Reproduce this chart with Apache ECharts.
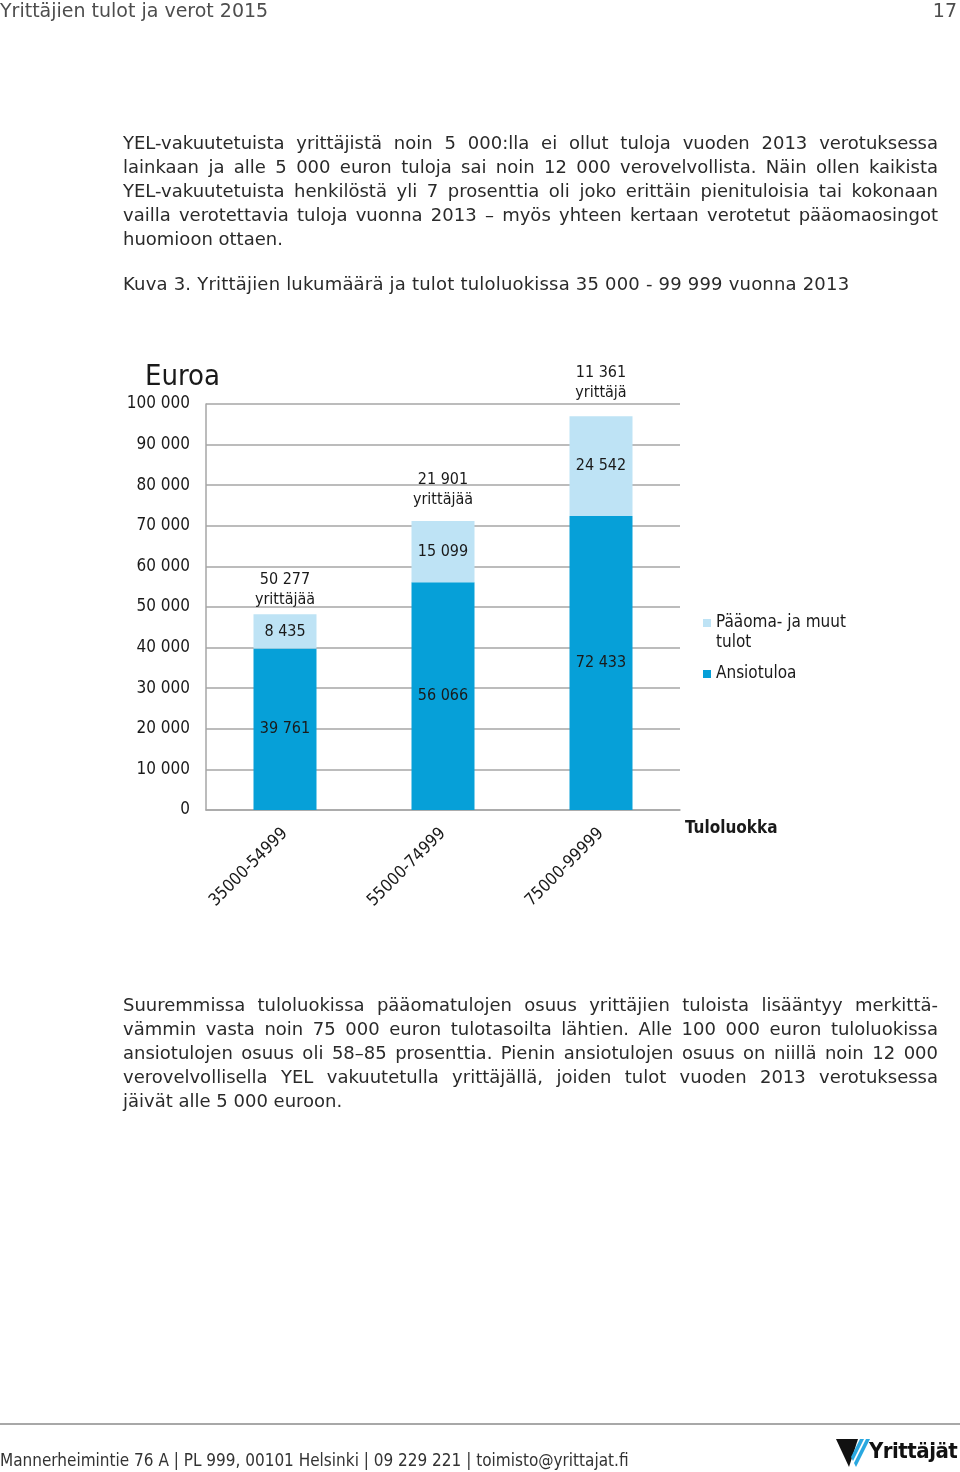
<!DOCTYPE html>
<html><head><meta charset="utf-8">
<script src="https://cdn.jsdelivr.net/npm/echarts@6/dist/echarts.min.js"></script>
<style>
html,body{margin:0;padding:0;background:#fff;}
body{width:960px;height:1472px;position:relative;overflow:hidden;font-family:"DejaVu Sans",sans-serif;color:#2a2a2a;}
#chart{position:absolute;left:0;top:0;width:960px;height:1472px;}
.t{position:absolute;white-space:nowrap;pointer-events:none;}
.para{position:absolute;left:123px;width:815px;font-size:18px;line-height:24px;}
.para div{white-space:nowrap;text-align:justify;text-align-last:justify;height:24px;}
.para div.last{text-align-last:left;}
</style></head>
<body>
<div id="chart"></div>
<div class="t" style="left:0;top:-1px;font-size:19px;color:#4d4d4d;">Yrittäjien tulot ja verot 2015</div>
<div class="t" style="right:3px;top:-1px;font-size:19px;color:#4d4d4d;">17</div>
<div class="para" style="top:131px;">
<div>YEL-vakuutetuista yrittäjistä noin 5 000:lla ei ollut tuloja vuoden 2013 verotuksessa</div>
<div>lainkaan ja alle 5 000 euron tuloja sai noin 12 000 verovelvollista. Näin ollen kaikista</div>
<div>YEL-vakuutetuista henkilöstä yli 7 prosenttia oli joko erittäin pienituloisia tai kokonaan</div>
<div>vailla verotettavia tuloja vuonna 2013 – myös yhteen kertaan verotetut pääomaosingot</div>
<div class="last">huomioon ottaen.</div>
</div>
<div class="t" style="left:123px;top:272px;font-size:18px;line-height:24px;letter-spacing:0.2px;">Kuva 3. Yrittäjien lukumäärä ja tulot tuloluokissa 35 000 - 99 999 vuonna 2013</div>
<div class="para" style="top:993px;">
<div>Suuremmissa tuloluokissa pääomatulojen osuus yrittäjien tuloista lisääntyy merkittä-</div>
<div>vämmin vasta noin 75 000 euron tulotasoilta lähtien. Alle 100 000 euron tuloluokissa</div>
<div>ansiotulojen osuus oli 58–85 prosenttia. Pienin ansiotulojen osuus on niillä noin 12 000</div>
<div>verovelvollisella YEL vakuutetulla yrittäjällä, joiden tulot vuoden 2013 verotuksessa</div>
<div class="last">jäivät alle 5 000 euroon.</div>
</div>
<div style="position:absolute;left:0;top:1423px;width:960px;height:2px;background:#a8a8a8;"></div>
<div class="t" style="left:0;top:1449px;font-size:17px;line-height:22px;color:#333;font-family:'DejaVu Sans Condensed','DejaVu Sans',sans-serif;">Mannerheimintie 76 A | PL 999, 00101 Helsinki | 09 229 221 | toimisto@yrittajat.fi</div>
<svg style="position:absolute;left:836px;top:1437px;" width="36" height="32" viewBox="0 0 36 32">
<polygon points="0,2 22,2 13,30" fill="#111"/>
<polygon points="24,2 28,2 17,24 15,20" fill="#29a8e0"/>
<polygon points="30,2 34,2 20,30 18,26" fill="#29a8e0"/>
</svg>
<div class="t" style="left:869px;top:1438px;font-size:22px;font-weight:bold;color:#111;letter-spacing:-0.5px;font-family:'DejaVu Sans Condensed','DejaVu Sans',sans-serif;">Yrittäjät</div>
<script>
var categories = ['35000-54999', '55000-74999', '75000-99999'];
var ansiotulo = [39761, 56066, 72433];
var paaomatulo = [8435, 15099, 24542];
var yrittajat = ['50 277\nyrittäjää', '21 901\nyrittäjää', '11 361\nyrittäjä'];
var yTicks = [0, 10000, 20000, 30000, 40000, 50000, 60000, 70000, 80000, 90000, 100000];

function fmt(v){ return String(v).replace(/\B(?=(\d{3})+(?!\d))/g, ' '); }
var FONT = '"DejaVu Sans Condensed","DejaVu Sans",sans-serif';
var countLabelGap = [4, 11, 13];
var chart = echarts.init(document.getElementById('chart'), null, {renderer:'canvas'});
chart.setOption({
  animation:false,
  textStyle:{fontFamily:FONT, color:'#1a1a1a'},
  grid:{left:206, top:404, width:474, height:406, containLabel:false},
  legend:{
    orient:'vertical', left:703, top:593, padding:0, itemWidth:8, itemHeight:8, itemGap:11,
    icon:'rect',
    data:['Pääoma- ja muut tulot','Ansiotuloa'],
    formatter:function(n){ return n==='Pääoma- ja muut tulot' ? ' \nPääoma- ja muut\ntulot' : n; },
    textStyle:{fontSize:17, lineHeight:20, color:'#1a1a1a', fontFamily:FONT}
  },
  xAxis:{
    type:'category', data:categories,
    axisLine:{lineStyle:{color:'#a6a6a6', width:1.5}},
    axisTick:{show:false},
    axisLabel:{rotate:45, fontSize:17, color:'#1a1a1a', margin:21, interval:0},
    name:'Tuloluokka', nameLocation:'end', nameGap:5,
    nameTextStyle:{fontSize:17, fontWeight:'bold', color:'#1a1a1a', verticalAlign:'top', align:'left', padding:[10,0,0,0]}
  },
  yAxis:{
    type:'value', min:0, max:100000, interval:10000,
    axisLine:{show:true, lineStyle:{color:'#a6a6a6', width:1.5}},
    axisTick:{show:false},
    splitLine:{lineStyle:{color:'#a6a6a6', width:1.5}},
    axisLabel:{fontSize:17, color:'#1a1a1a', margin:16, formatter:function(v){ return fmt(v); }}
  },
  graphic:[
    {type:'text', left:145, top:363, style:{text:'Euroa', fontSize:29, fill:'#1a1a1a', fontFamily:FONT}}
  ],
  series:[
    {name:'Ansiotuloa', type:'bar', stack:'s', data:ansiotulo, barWidth:63,
     itemStyle:{color:'#06a0d8'},
     label:{show:true, position:'inside', fontSize:16, color:'#1a1a1a', formatter:function(p){return fmt(p.value);}}},
    {name:'Pääoma- ja muut tulot', type:'bar', stack:'s', data:paaomatulo, barWidth:63,
     itemStyle:{color:'#bee3f5'},
     label:{show:true, position:'inside', fontSize:16, color:'#1a1a1a', formatter:function(p){return fmt(p.value);}}},
    {name:'lkm', type:'bar', stack:'s', barWidth:63,
     data:categories.map(function(c, i){ return {value:0, label:{distance:countLabelGap[i]}}; }),
     itemStyle:{color:'transparent'},
     label:{show:true, position:'top', fontSize:16, lineHeight:20, color:'#1a1a1a',
       formatter:function(p){ return yrittajat[p.dataIndex]; }}}
  ]
});
</script>
</body></html>
